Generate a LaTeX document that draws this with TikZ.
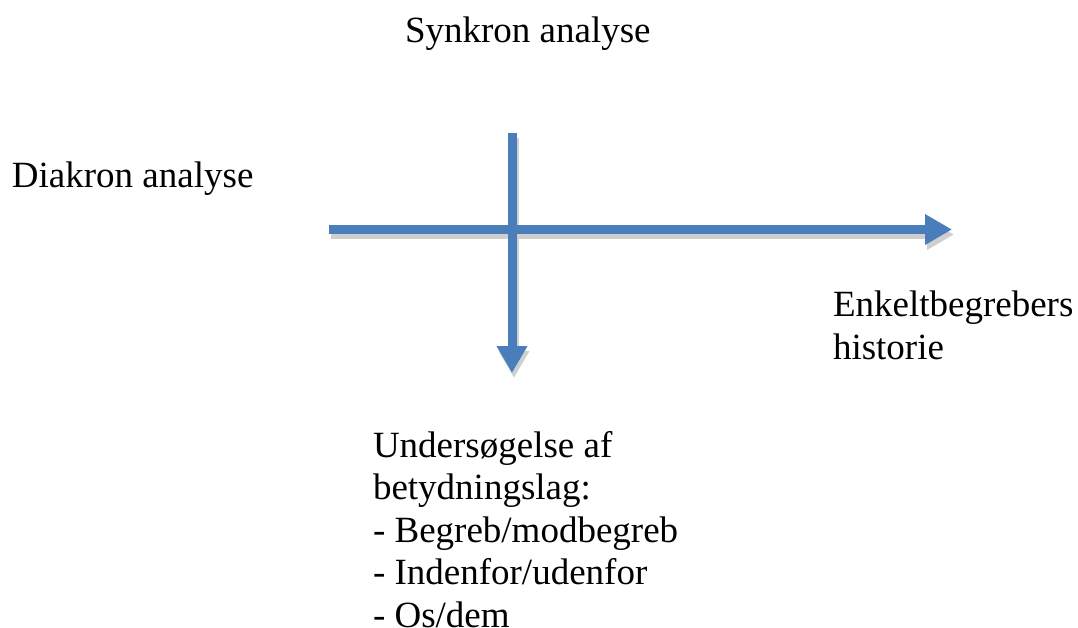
\documentclass[tikz,border=0pt]{standalone}
\usepackage{fontspec}
\setmainfont{Liberation Serif}
\usepackage{tikz}
\usetikzlibrary{arrows.meta}
\definecolor{axisblue}{HTML}{4A7EBB}
\definecolor{axisgrey}{HTML}{CFCFCF}
\newcommand{\axiswidth}{9pt}
% Multi-line blocks sit on the baseline of their last line.
\tikzstyle{textblock}=[inner sep=0, outer sep=0, anchor=base west, align=left,
                       font=\fontsize{37}{42.5}\selectfont]
\tikzstyle{axisarrow}=[draw=axisblue, line width=\axiswidth,
                       -{Triangle[length=27pt, width=29pt, fill=axisblue]}]
\tikzstyle{axisshadow}=[axisarrow, draw=axisgrey,
                        -{Triangle[length=27pt, width=29pt, fill=axisgrey]},
                        % Shadow sits a little below and to the right.
                        transform canvas={shift={(2pt,-5pt)}}]
\begin{document}
\begin{tikzpicture}[x=1pt, y=-1pt]
    \useasboundingbox (0, 0) rectangle (1078, 628);
    \node[textblock] (synkron) at (405, 43) {Synkron analyse};
    \node[textblock] (diakron) at (12, 188) {Diakron analyse};
    \node[textblock] (enkelt) at (833, 359) {Enkeltbegrebers\\historie};
    \node[textblock] (under) at (373, 627) {Undersøgelse af\\betydningslag:\\- Begreb/modbegreb\\- Indenfor/udenfor\\- Os/dem};
    \coordinate (hstart) at (329, 229.5);
    \coordinate (hend) at (952, 229.5);
    \coordinate (vstart) at (512, 133);
    \coordinate (vend) at (512, 373);
    \draw[axisshadow] (hstart) -- (hend);
    \draw[axisshadow] (vstart) -- (vend);
    \draw[axisarrow] (hstart) -- (hend);
    \draw[axisarrow] (vstart) -- (vend);
\end{tikzpicture}
\end{document}
